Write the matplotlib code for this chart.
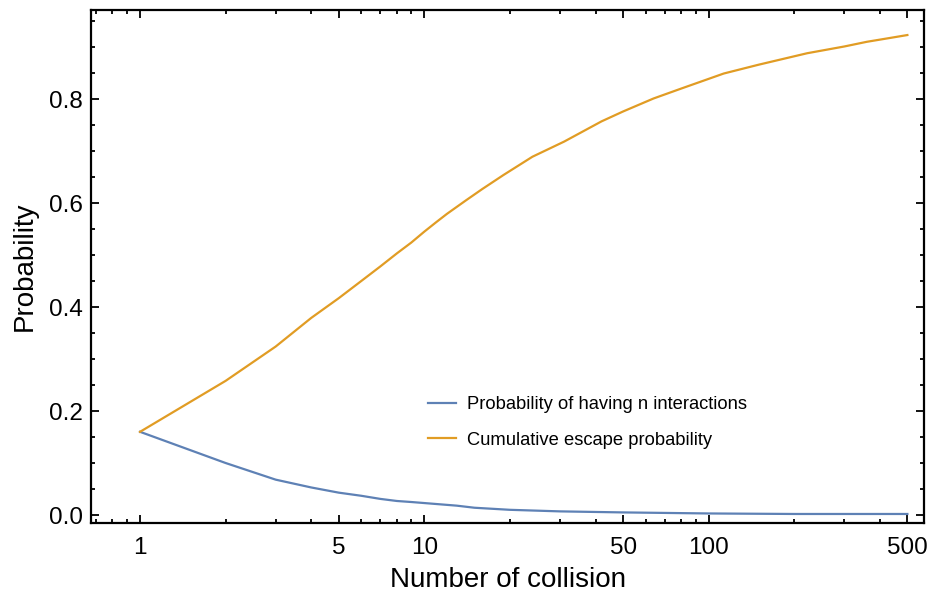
import matplotlib.pyplot as plt
from matplotlib.ticker import FixedLocator, NullFormatter, FixedFormatter

plt.rcParams['font.family'] = ['Liberation Sans', 'DejaVu Sans']

# values
n_blue = [1, 2, 3, 4, 5, 6, 7, 8, 9, 10, 13, 15, 20, 30, 50, 100, 200, 500]
p_blue = [0.160, 0.100, 0.068, 0.053, 0.043, 0.037, 0.031, 0.027, 0.025, 0.023,
          0.018, 0.014, 0.010, 0.007, 0.005, 0.003, 0.002, 0.002]

n_orange = [1, 2, 3, 4, 5, 6, 7, 8, 9, 10, 11, 12, 14, 16, 19, 24, 31, 42, 50,
            64, 80, 113, 150, 222, 300, 360, 430, 500]
p_orange = [0.160, 0.258, 0.324, 0.379, 0.417, 0.450, 0.478, 0.503, 0.524, 0.545,
            0.563, 0.579, 0.605, 0.627, 0.654, 0.689, 0.718, 0.757, 0.776,
            0.801, 0.820, 0.849, 0.866, 0.888, 0.901, 0.910, 0.917, 0.923]

x_major = [1, 5, 10, 50, 100, 500]
x_minor = [0.7, 0.8, 0.9, 2, 3, 4, 6, 7, 8, 9, 20, 30, 40, 60, 70, 80, 90, 200, 300, 400]
y_major = [0.0, 0.2, 0.4, 0.6, 0.8]

fig = plt.figure(figsize=(9.3, 5.93), dpi=100)
ax = fig.add_axes([0.098, 0.118, 0.896, 0.865])

ax.plot(n_blue, p_blue, color='#5E81B5', lw=1.6, label='Probability of having n interactions')
ax.plot(n_orange, p_orange, color='#E19C24', lw=1.6, label='Cumulative escape probability')

ax.set_xscale('log')
ax.set_xlim(0.673, 574)
ax.set_ylim(-0.0154, 0.971)

ax.xaxis.set_major_locator(FixedLocator(x_major))
ax.xaxis.set_major_formatter(FixedFormatter([str(v) for v in x_major]))
ax.xaxis.set_minor_locator(FixedLocator(x_minor))
ax.xaxis.set_minor_formatter(NullFormatter())
ax.yaxis.set_major_locator(FixedLocator(y_major))
ax.yaxis.set_major_formatter(FixedFormatter([f'{v:.1f}' for v in y_major]))
ax.yaxis.set_minor_locator(FixedLocator([i * 0.05 for i in range(20) if i % 4 != 0]))

ax.tick_params(which='both', direction='in', top=True, right=True, width=1.3, labelsize=17.5)
ax.tick_params(which='major', length=5.5)
ax.tick_params(which='minor', length=3)
ax.tick_params(axis='x', pad=10)
ax.tick_params(axis='y', pad=6)
for s in ax.spines.values():
    s.set_linewidth(1.6)

ax.set_xlabel('Number of collision', fontsize=20, labelpad=6)
ax.set_ylabel('Probability', fontsize=20, labelpad=8)

ax.legend(loc='upper left', bbox_to_anchor=(0.385, 0.279), frameon=False, fontsize=13.2,
          handlelength=1.5, handletextpad=0.6, labelspacing=1.0)

fig.savefig('out.png', dpi=100)
